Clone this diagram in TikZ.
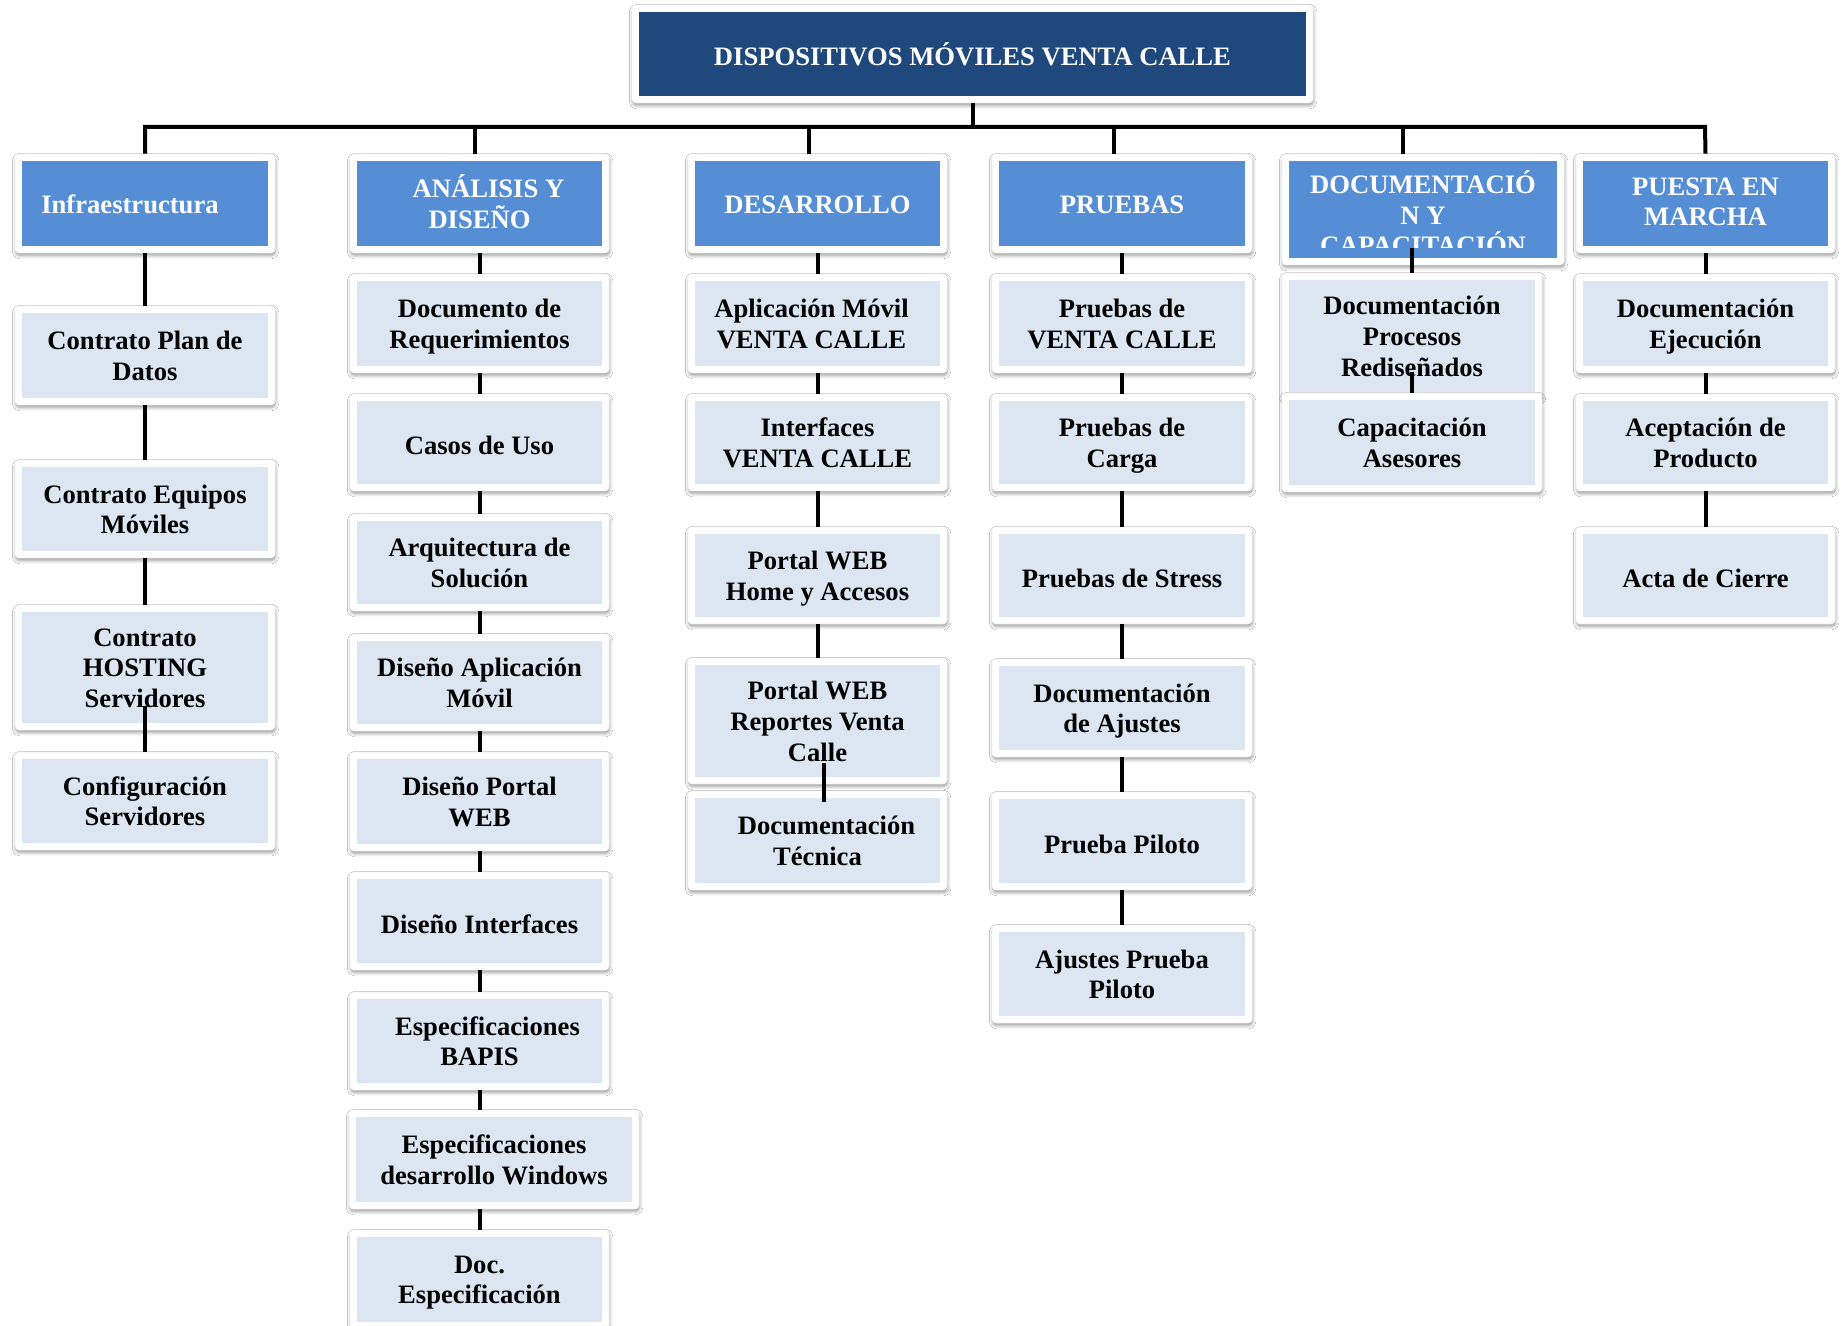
\documentclass[tikz,border=0pt]{standalone}
\usepackage{fontspec}
\setmainfont{Liberation Serif}
\usetikzlibrary{fit,calc,shadows.blur}

\definecolor{titleblue}{HTML}{1F497D}
\definecolor{headblue}{HTML}{558ED5}
\definecolor{itemblue}{HTML}{DCE6F2}

\tikzset{
  frame/.style={fill=white, draw=black!5, line width=0.3pt, rounded corners=2pt,
    inner sep=0pt,
    blur shadow={shadow xshift=0.3pt, shadow yshift=-1.3pt,
      shadow blur radius=1.6pt, shadow opacity=40}},
  title/.style={fill=titleblue, inner sep=0pt},
  hdr/.style={fill=headblue, inner sep=0pt},
  item/.style={fill=itemblue, inner sep=0pt},
  % same line box for every label, whatever its glyphs
  label base/.style={align=center, inner sep=0pt,
    font=\bfseries\fontsize{13.3}{15.3}\selectfont,
    execute at begin node={\rule{0pt}{11.8pt}},
    execute at end node={\rule[-2.9pt]{0pt}{2.9pt}}},
  title text/.style={label base, text=white, yshift=-1.1pt},
  hdr text/.style={label base, text=white, yshift=-0.6pt},
  item text/.style={label base, text=black, yshift=-1.6pt},
  conn/.style={draw=black, line width=2pt},
}

% #1 name, #2..#5 inner box (x1,y1,x2,y2 in px), #6 kind, #7 text shift, #8 text
\newcommand\wbsbox[8]{%
  \node[frame, fit={({#2-7},{#3-7}) ({#4+7},{#5+7})}] (#1-o) {};
  \node[#6, fit={(#2,#3) (#4,#5)}] (#1) {};
  \node[#6 text, xshift=#7] at (#1.center) {#8};
}

\begin{document}
\begin{tikzpicture}[x=0.5pt, y=-0.5pt]
\path[fill=white, use as bounding box] (0,0) rectangle (1843,1326);

% root
\wbsbox{root}{639}{12}{1306}{96}{title}{0pt}{DISPOSITIVOS MÓVILES VENTA CALLE}

% phases
\wbsbox{infra}{22}{161}{268}{246}{hdr}{-7.5pt}{Infraestructura}
\wbsbox{ana}{357}{161}{602}{246}{hdr}{0pt}{\hspace*{9pt}ANÁLISIS Y\\DISEÑO}
\wbsbox{des}{695}{161}{940}{246}{hdr}{0pt}{DESARROLLO}
\wbsbox{pru}{999}{161}{1245}{246}{hdr}{0pt}{PRUEBAS}
% documentation phase: its label is cut off by the box
\node[frame, fit={(1282,154) (1564,265)}] (doc-o) {};
\node[hdr, fit={(1289,161) (1557,258)}] (doc) {};
\begin{scope}
  \clip (1289,161) rectangle (1557,248);
  \node[hdr text, anchor=north] at (1423,169) {DOCUMENTACIÓ\\N Y\\CAPACITACIÓN};
\end{scope}
\wbsbox{pue}{1583}{161}{1828}{246}{hdr}{0pt}{PUESTA EN\\MARCHA}

% infraestructura
\wbsbox{c1a}{22}{313}{268}{398}{item}{0pt}{Contrato Plan de\\Datos}
\wbsbox{c1b}{22}{467}{268}{551}{item}{0pt}{Contrato Equipos\\Móviles}
\wbsbox{c1c}{22}{612}{268}{723}{item}{0pt}{Contrato\\HOSTING\\Servidores}
\wbsbox{c1d}{22}{759}{268}{843}{item}{0pt}{Configuración\\Servidores}

% analisis y diseno
\wbsbox{c2a}{357}{281}{602}{366}{item}{0pt}{Documento de\\Requerimientos}
\wbsbox{c2b}{357}{401}{602}{484}{item}{0pt}{Casos de Uso}
\wbsbox{c2c}{357}{521}{602}{604}{item}{0pt}{Arquitectura de\\Solución}
\wbsbox{c2d}{357}{641}{602}{724}{item}{0pt}{Diseño Aplicación\\Móvil}
\wbsbox{c2e}{357}{759}{602}{844}{item}{0pt}{Diseño Portal\\WEB}
\wbsbox{c2f}{357}{879}{602}{963}{item}{0pt}{Diseño Interfaces}
\wbsbox{c2g}{357}{999}{602}{1083}{item}{0pt}{\hspace*{8pt}Especificaciones\\BAPIS}
\wbsbox{c2h}{356}{1117}{632}{1202}{item}{0pt}{Especificaciones\\desarrollo Windows}
\wbsbox{c2i}{357}{1237}{602}{1322}{item}{0pt}{Doc.\\Especificación}

% desarrollo
\wbsbox{c3a}{695}{281}{940}{366}{item}{-3pt}{Aplicación Móvil\\VENTA CALLE}
\wbsbox{c3b}{695}{401}{940}{484}{item}{0pt}{Interfaces\\VENTA CALLE}
\wbsbox{c3c}{695}{534}{940}{617}{item}{0pt}{Portal WEB\\Home y Accesos}
\wbsbox{c3d}{695}{665}{940}{777}{item}{0pt}{Portal WEB\\Reportes Venta\\Calle}
\wbsbox{c3e}{695}{798}{940}{883}{item}{0pt}{\hspace*{9pt}Documentación\\Técnica}

% pruebas
\wbsbox{c4a}{999}{281}{1245}{366}{item}{0pt}{Pruebas de\\VENTA CALLE}
\wbsbox{c4b}{999}{401}{1245}{484}{item}{0pt}{Pruebas de\\Carga}
\wbsbox{c4c}{999}{534}{1245}{617}{item}{0pt}{Pruebas de Stress}
\wbsbox{c4d}{999}{666}{1245}{750}{item}{0pt}{Documentación\\de Ajustes}
\wbsbox{c4e}{999}{799}{1245}{883}{item}{0pt}{Prueba Piloto}
\wbsbox{c4f}{999}{932}{1245}{1016}{item}{0pt}{Ajustes Prueba\\Piloto}

% documentacion y capacitacion
\wbsbox{c5a}{1289}{280}{1535}{392}{item}{0pt}{Documentación\\Procesos\\Rediseñados}
\wbsbox{c5b}{1289}{400}{1535}{485}{item}{0pt}{Capacitación\\Asesores}

% puesta en marcha
\wbsbox{c6a}{1583}{281}{1828}{366}{item}{0pt}{Documentación\\Ejecución}
\wbsbox{c6b}{1583}{401}{1828}{484}{item}{0pt}{Aceptación de\\Producto}
\wbsbox{c6c}{1583}{534}{1828}{617}{item}{0pt}{Acta de Cierre}

% bus coordinates
\coordinate (bl) at (145,127);
\coordinate (br) at (1705,127);
\coordinate (broot) at (972.5,127);
\coordinate (bana) at (475,127);
\coordinate (bdes) at (809,127);
\coordinate (bpru) at (1114,127);
\coordinate (bdoc) at (1403,127);

% tree lines
\draw[conn] (root-o.south) -- (broot);
\draw[conn] (infra-o.north) -- (bl) -- (br) -- (pue-o.north);
\draw[conn] (bana) -- (bana |- ana-o.north);
\draw[conn] (bdes) -- (bdes |- des-o.north);
\draw[conn] (bpru) -- (bpru |- pru-o.north);
\draw[conn] (bdoc) -- (bdoc |- doc-o.north);

\draw[conn] (infra-o.south) -- (c1a-o.north);
\draw[conn] (c1a-o.south) -- (c1b-o.north);
\draw[conn] (c1b-o.south) -- (c1c-o.north);
\draw[conn] ($(c1d-o.north)+(0,-46)$) -- (c1d-o.north);

\draw[conn] (c2a-o.north |- ana-o.south) -- (c2a-o.north);
\foreach \a/\b in {c2a/c2b, c2b/c2c, c2c/c2d, c2d/c2e, c2e/c2f, c2f/c2g}
  \draw[conn] (\a-o.south) -- (\b-o.north);
\draw[conn] (c2a-o.south |- c2g-o.south) -- (c2a-o.south |- c2h-o.north);
\draw[conn] (c2a-o.south |- c2h-o.south) -- (c2i-o.north);

\draw[conn] (c3a-o.north |- des-o.south) -- (c3a-o.north);
\foreach \a/\b in {c3a/c3b, c3b/c3c, c3c/c3d}
  \draw[conn] (\a-o.south) -- (\b-o.north);
\coordinate (c3x1) at (824,763);
\coordinate (c3x2) at (824,802);
\draw[conn] (c3x1) -- (c3x2);

\draw[conn] (c4a-o.north |- pru-o.south) -- (c4a-o.north);
\foreach \a/\b in {c4a/c4b, c4b/c4c, c4c/c4d, c4d/c4e, c4e/c4f}
  \draw[conn] (\a-o.south) -- (\b-o.north);

\draw[conn] ($(c5a-o.north)+(0,-25)$) -- (c5a-o.north);
\draw[conn] ($(c5b-o.north)+(0,-21)$) -- (c5b-o.north);

\draw[conn] (pue-o.south) -- (c6a-o.north);
\draw[conn] (c6a-o.south) -- (c6b-o.north);
\draw[conn] (c6b-o.south) -- (c6c-o.north);
\end{tikzpicture}
\end{document}
